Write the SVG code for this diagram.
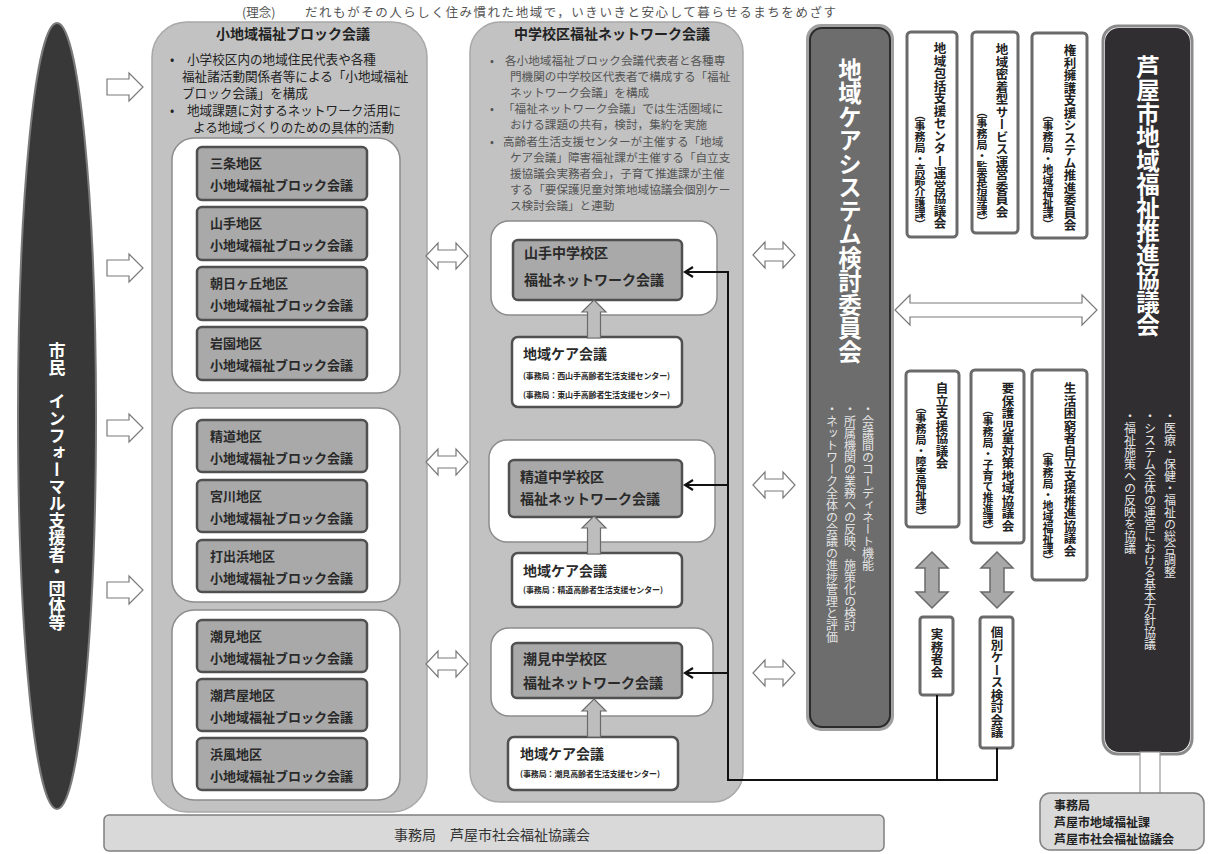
<svg xmlns="http://www.w3.org/2000/svg" width="1208" height="854" viewBox="0 0 1208 854">
<defs>
<style>
text{font-family:"Noto Sans CJK JP","Noto Sans CJK SC",sans-serif;}
.h{dominant-baseline:central;}
.v{writing-mode:vertical-rl;}
.panel{fill:#c2c2c2;stroke:#a8a8a8;stroke-width:1.5;}
.grp{fill:#fff;stroke:#8c8c8c;stroke-width:1.5;}
.gb{fill:#a9a9a9;stroke:#505050;stroke-width:2.5;}
.wb{fill:#fff;stroke:#505050;stroke-width:2.5;}
.rb{fill:#fff;stroke:#6a6a6a;stroke-width:3;}
.bt{font-size:13px;font-weight:bold;fill:#2a2a2a;}
.mt{font-size:14px;font-weight:bold;fill:#2a2a2a;}
.sm{font-size:8px;font-weight:bold;fill:#2a2a2a;}
.lb{font-size:12.6px;fill:#222;}
.mb{font-size:11.6px;fill:#555;}
.hd{font-size:14px;font-weight:bold;fill:#222;}
.vt1{font-size:12.5px;font-weight:bold;fill:#222;}
.vt2{font-size:11px;font-weight:bold;fill:#222;text-anchor:end;}
.wt{font-size:12px;fill:#e4e4e4;}
.big{font-size:23.5px;font-weight:bold;fill:#fff;}
.hol{fill:#fff;stroke:#7a7a7a;stroke-width:1.2;}
.up{fill:#bdbdbd;stroke:#6a6a6a;stroke-width:1.2;}
.gar{fill:#a8a8a8;stroke:#6a6a6a;stroke-width:1.5;}
.con{fill:none;stroke:#111;stroke-width:2;}
.st{font-size:12px;font-weight:bold;fill:#222;}
</style>
<path id="dbl" d="M-21,0 L-9,-13 V-6 H9 V-13 L21,0 L9,13 V6 H-9 V13 Z"/>
<path id="rar" d="M-18,-8 H4 V-14 L18,0 L4,14 V8 H-18 Z"/>
<path id="uar" d="M0,-19 L12,-7 H6.5 V19 H-6.5 V-7 H-12 Z"/>
<path id="var" d="M0,-28 L16,-12 H7 V12 H16 L0,28 L-16,12 H-7 V-12 H-16 Z"/>
<marker id="ah" viewBox="0 0 12 12" refX="10" refY="6" markerWidth="12" markerHeight="12" markerUnits="userSpaceOnUse" orient="auto">
<path d="M2,1 L10,6 L2,11" fill="none" stroke="#111" stroke-width="2.2"/>
</marker>
</defs>
<rect width="1208" height="854" fill="#fff"/>

<text id="title" class="h" y="11" font-size="12.5" fill="#555"><tspan x="242">(理念)</tspan><tspan x="305" textLength="531">だれもがその人らしく住み慣れた地域で，いきいきと安心して暮らせるまちをめざす</tspan></text>

<g id="citizens">
<ellipse cx="57" cy="416" rx="39" ry="393" fill="#383838" stroke="#7a7a7a" stroke-width="2"/>
<text class="v" x="57" y="342" font-size="17" font-weight="bold" fill="#fff">市民　インフォーマル支援者・団体等</text>
</g>

<g id="block-panel">
<rect class="panel" x="152" y="22" width="275" height="790" rx="35"/>
<text class="h hd" x="293" y="33" text-anchor="middle">小地域福祉ブロック会議</text>
<text class="h lb" x="170" y="58">•</text>
<text class="h lb" x="187" y="58">小学校区内の地域住民代表や各種</text>
<text class="h lb" x="182" y="75">福祉諸活動関係者等による「小地域福祉</text>
<text class="h lb" x="182" y="92">ブロック会議」を構成</text>
<text class="h lb" x="170" y="109">•</text>
<text class="h lb" x="187" y="109">地域課題に対するネットワーク活用に</text>
<text class="h lb" x="193" y="126">よる地域づくりのための具体的活動</text>
<rect class="grp" x="172" y="138" width="228" height="255" rx="22"/>
<rect class="grp" x="172" y="408" width="228" height="194" rx="22"/>
<rect class="grp" x="172" y="610" width="228" height="190" rx="22"/>
</g>

<g id="b-sanjo"><rect class="gb" x="197" y="147" width="170" height="53" rx="5"/><text class="h bt" x="210" y="162">三条地区</text><text class="h bt" x="210" y="184">小地域福祉ブロック会議</text></g>
<g id="b-yamate"><rect class="gb" x="197" y="207" width="170" height="53" rx="5"/><text class="h bt" x="210" y="222">山手地区</text><text class="h bt" x="210" y="244">小地域福祉ブロック会議</text></g>
<g id="b-asahigaoka"><rect class="gb" x="197" y="267" width="170" height="53" rx="5"/><text class="h bt" x="210" y="282">朝日ヶ丘地区</text><text class="h bt" x="210" y="304">小地域福祉ブロック会議</text></g>
<g id="b-iwazono"><rect class="gb" x="197" y="327" width="170" height="53" rx="5"/><text class="h bt" x="210" y="342">岩園地区</text><text class="h bt" x="210" y="364">小地域福祉ブロック会議</text></g>
<g id="b-seido"><rect class="gb" x="197" y="420" width="170" height="52" rx="5"/><text class="h bt" x="210" y="435">精道地区</text><text class="h bt" x="210" y="457">小地域福祉ブロック会議</text></g>
<g id="b-miyagawa"><rect class="gb" x="197" y="480" width="170" height="52" rx="5"/><text class="h bt" x="210" y="495">宮川地区</text><text class="h bt" x="210" y="517">小地域福祉ブロック会議</text></g>
<g id="b-uchidehama"><rect class="gb" x="197" y="540" width="170" height="52" rx="5"/><text class="h bt" x="210" y="555">打出浜地区</text><text class="h bt" x="210" y="577">小地域福祉ブロック会議</text></g>
<g id="b-shiomi"><rect class="gb" x="197" y="620" width="170" height="52" rx="5"/><text class="h bt" x="210" y="635">潮見地区</text><text class="h bt" x="210" y="657">小地域福祉ブロック会議</text></g>
<g id="b-shioashiya"><rect class="gb" x="197" y="679" width="170" height="52" rx="5"/><text class="h bt" x="210" y="694">潮芦屋地区</text><text class="h bt" x="210" y="716">小地域福祉ブロック会議</text></g>
<g id="b-hamakaze"><rect class="gb" x="197" y="738" width="170" height="52" rx="5"/><text class="h bt" x="210" y="753">浜風地区</text><text class="h bt" x="210" y="775">小地域福祉ブロック会議</text></g>

<g id="network-panel">
<rect class="panel" x="470" y="22" width="273" height="780" rx="30"/>
<text class="h hd" x="612" y="33" text-anchor="middle">中学校区福祉ネットワーク会議</text>
<text class="h mb" x="490" y="60">•</text>
<text class="h mb" x="505" y="60">各小地域福祉ブロック会議代表者と各種専</text>
<text class="h mb" x="510" y="76">門機関の中学校区代表者で構成する「福祉</text>
<text class="h mb" x="510" y="92">ネットワーク会議」を構成</text>
<text class="h mb" x="490" y="108">•</text>
<text class="h mb" x="503" y="108">「福祉ネットワーク会議」では生活圏域に</text>
<text class="h mb" x="510" y="124">おける課題の共有，検討，集約を実施</text>
<text class="h mb" x="490" y="141">•</text>
<text class="h mb" x="503" y="141">高齢者生活支援センターが主催する「地域</text>
<text class="h mb" x="510" y="157">ケア会議」障害福祉課が主催する「自立支</text>
<text class="h mb" x="510" y="173">援協議会実務者会」，子育て推進課が主催</text>
<text class="h mb" x="510" y="189">する「要保護児童対策地域協議会個別ケー</text>
<text class="h mb" x="510" y="205">ス検討会議」と連動</text>
<rect class="grp" x="491" y="221" width="226" height="94" rx="18"/>
<rect class="grp" x="489" y="440" width="226" height="102" rx="18"/>
<rect class="grp" x="491" y="628" width="222" height="88" rx="18"/>
</g>

<g id="n-yamate"><rect class="gb" x="513" y="240" width="169" height="60" rx="5"/><text class="h mt" x="524" y="252">山手中学校区</text><text class="h mt" x="524" y="279" font-size="13.5">福祉ネットワーク会議</text></g>
<g id="c-yamate"><rect class="wb" x="512" y="337" width="170" height="70" rx="6"/><text class="h mt" x="523" y="353">地域ケア会議</text><text class="h sm" x="523" y="375" textLength="147">(事務局：西山手高齢者生活支援センター)</text><text class="h sm" x="523" y="394" textLength="147">(事務局：東山手高齢者生活支援センター)</text></g>
<g id="n-seido"><rect class="gb" x="509" y="460" width="173" height="57" rx="5"/><text class="h mt" x="520" y="476">精道中学校区</text><text class="h mt" x="520" y="498" font-size="13.5">福祉ネットワーク会議</text></g>
<g id="c-seido"><rect class="wb" x="512" y="553" width="170" height="54" rx="6"/><text class="h mt" x="523" y="570">地域ケア会議</text><text class="h sm" x="523" y="589" textLength="140">(事務局：精道高齢者生活支援センター)</text></g>
<g id="n-shiomi"><rect class="gb" x="512" y="643" width="170" height="55" rx="5"/><text class="h mt" x="523" y="658">潮見中学校区</text><text class="h mt" x="523" y="682" font-size="13.5">福祉ネットワーク会議</text></g>
<g id="c-shiomi"><rect class="wb" x="508" y="737" width="170" height="53" rx="6"/><text class="h mt" x="520" y="753">地域ケア会議</text><text class="h sm" x="520" y="773" textLength="140">(事務局：潮見高齢者生活支援センター)</text></g>

<g id="care-committee">
<rect x="808" y="26" width="84" height="703" rx="13" fill="none" stroke="#a0a0a0" stroke-width="4"/>
<rect x="810" y="28" width="80" height="699" rx="12" fill="#6d6d6d" stroke="#2b2b2b" stroke-width="2"/>
<text class="v big" x="850" y="58">地域ケアシステム検討委員会</text>
<text class="v wt" x="868" y="403">・会議間のコーディネート機能</text>
<text class="v wt" x="850" y="403">・所属機関の業務への反映、施策化の検討</text>
<text class="v wt" x="832" y="403">・ネットワーク全体の会議の進捗管理と評価</text>
</g>

<g id="r-houkatsu"><rect class="rb" x="907" y="32" width="50" height="205" rx="4"/><text class="v vt1" x="940" y="42">地域包括支援センター運営協議会</text><text class="v vt2" x="920" y="230">（事務局・高齢介護課）</text></g>
<g id="r-mitchaku"><rect class="rb" x="972" y="32" width="46" height="201" rx="4"/><text class="v vt1" x="1002" y="43">地域密着型サービス運営委員会</text><text class="v vt2" x="982" y="227">（事務局・監査指導課）</text></g>
<g id="r-kenri"><rect class="rb" x="1032" y="33" width="55" height="205" rx="4"/><text class="v vt1" x="1070" y="44">権利擁護支援システム推進委員会</text><text class="v vt2" x="1048" y="230">（事務局・地域福祉課）</text></g>
<g id="r-jiritsu"><rect class="rb" x="906" y="371" width="53" height="156" rx="4"/><text class="v vt1" x="942" y="382">自立支援協議会</text><text class="v vt2" x="921" y="522">（事務局・障害福祉課）</text></g>
<g id="r-yohogo"><rect class="rb" x="971" y="370" width="53" height="173" rx="4"/><text class="v vt1" x="1008" y="382">要保護児童対策地域協議会</text><text class="v vt2" x="988" y="536">（事務局・子育て推進課）</text></g>
<g id="r-konkyu"><rect class="rb" x="1032" y="370" width="55" height="210" rx="4"/><text class="v vt1" x="1070" y="382">生活困窮者自立支援推進協議会</text><text class="v vt2" x="1048" y="566">（事務局・地域福祉課）</text></g>
<g id="r-jitsumu"><rect class="rb" x="920" y="617" width="33" height="78" rx="3"/><text class="v vt1" x="937" y="628" font-size="13">実務者会</text></g>
<g id="r-kobetsu"><rect class="rb" x="980" y="617" width="33" height="131" rx="3"/><text class="v vt1" x="997" y="626">個別ケース検討会議</text></g>

<g id="ashiya-council">
<rect x="1103" y="26" width="89" height="728" rx="15" fill="none" stroke="#8a8a8a" stroke-width="3"/>
<rect x="1105" y="28" width="85" height="724" rx="14" fill="#312e31"/>
<text class="v big" x="1148" y="55">芦屋市地域福祉推進協議会</text>
<text class="v wt" x="1170" y="410">・医療・保健・福祉の総合調整</text>
<text class="v wt" x="1150" y="410">・システム全体の運営における基本方針協議</text>
<text class="v wt" x="1130" y="410">・福祉施策への反映を協議</text>
</g>

<g id="secretariat-city">
<rect x="1140" y="752" width="20" height="42" fill="#fff" stroke="#999" stroke-width="1.2"/>
<rect x="1040" y="793" width="164" height="57" rx="10" fill="#d9d9d9" stroke="#7f7f7f" stroke-width="1.5"/>
<text class="h st" x="1054" y="804">事務局</text>
<text class="h st" x="1054" y="821">芦屋市地域福祉課</text>
<text class="h st" x="1054" y="838">芦屋市社会福祉協議会</text>
</g>

<g id="secretariat-shakyo">
<rect x="104" y="815" width="780" height="36" rx="5" fill="#d9d9d9" stroke="#7f7f7f" stroke-width="1.5"/>
<text class="h" x="492" y="834" font-size="14" fill="#333" text-anchor="middle">事務局　芦屋市社会福祉協議会</text>
</g>

<g id="connectors">
<use href="#rar" class="hol" x="125" y="87"/>
<use href="#rar" class="hol" x="125" y="268"/>
<use href="#rar" class="hol" x="125" y="428"/>
<use href="#rar" class="hol" x="125" y="590"/>
<use href="#dbl" class="hol" x="447" y="256"/>
<use href="#dbl" class="hol" x="447" y="462"/>
<use href="#dbl" class="hol" x="447" y="664"/>
<use href="#dbl" class="hol" x="774" y="255"/>
<use href="#dbl" class="hol" x="774" y="485"/>
<use href="#dbl" class="hol" x="774" y="673"/>
<path class="hol" d="M895,310 L910,295 V303 H1082 V295 L1097,310 L1082,325 V317 H910 V325 Z"/>
<use href="#uar" class="up" x="594" y="319"/>
<use href="#uar" class="up" x="594" y="535"/>
<use href="#uar" class="up" x="594" y="718"/>
<use href="#var" class="gar" x="932" y="580"/>
<use href="#var" class="gar" x="997" y="580"/>
<path class="con" d="M997,748 V780 H728 V272 H685" marker-end="url(#ah)"/>
<path class="con" d="M728,485 H685" marker-end="url(#ah)"/>
<path class="con" d="M728,673 H685" marker-end="url(#ah)"/>
<path class="con" d="M937,695 V780"/>
</g>
</svg>
